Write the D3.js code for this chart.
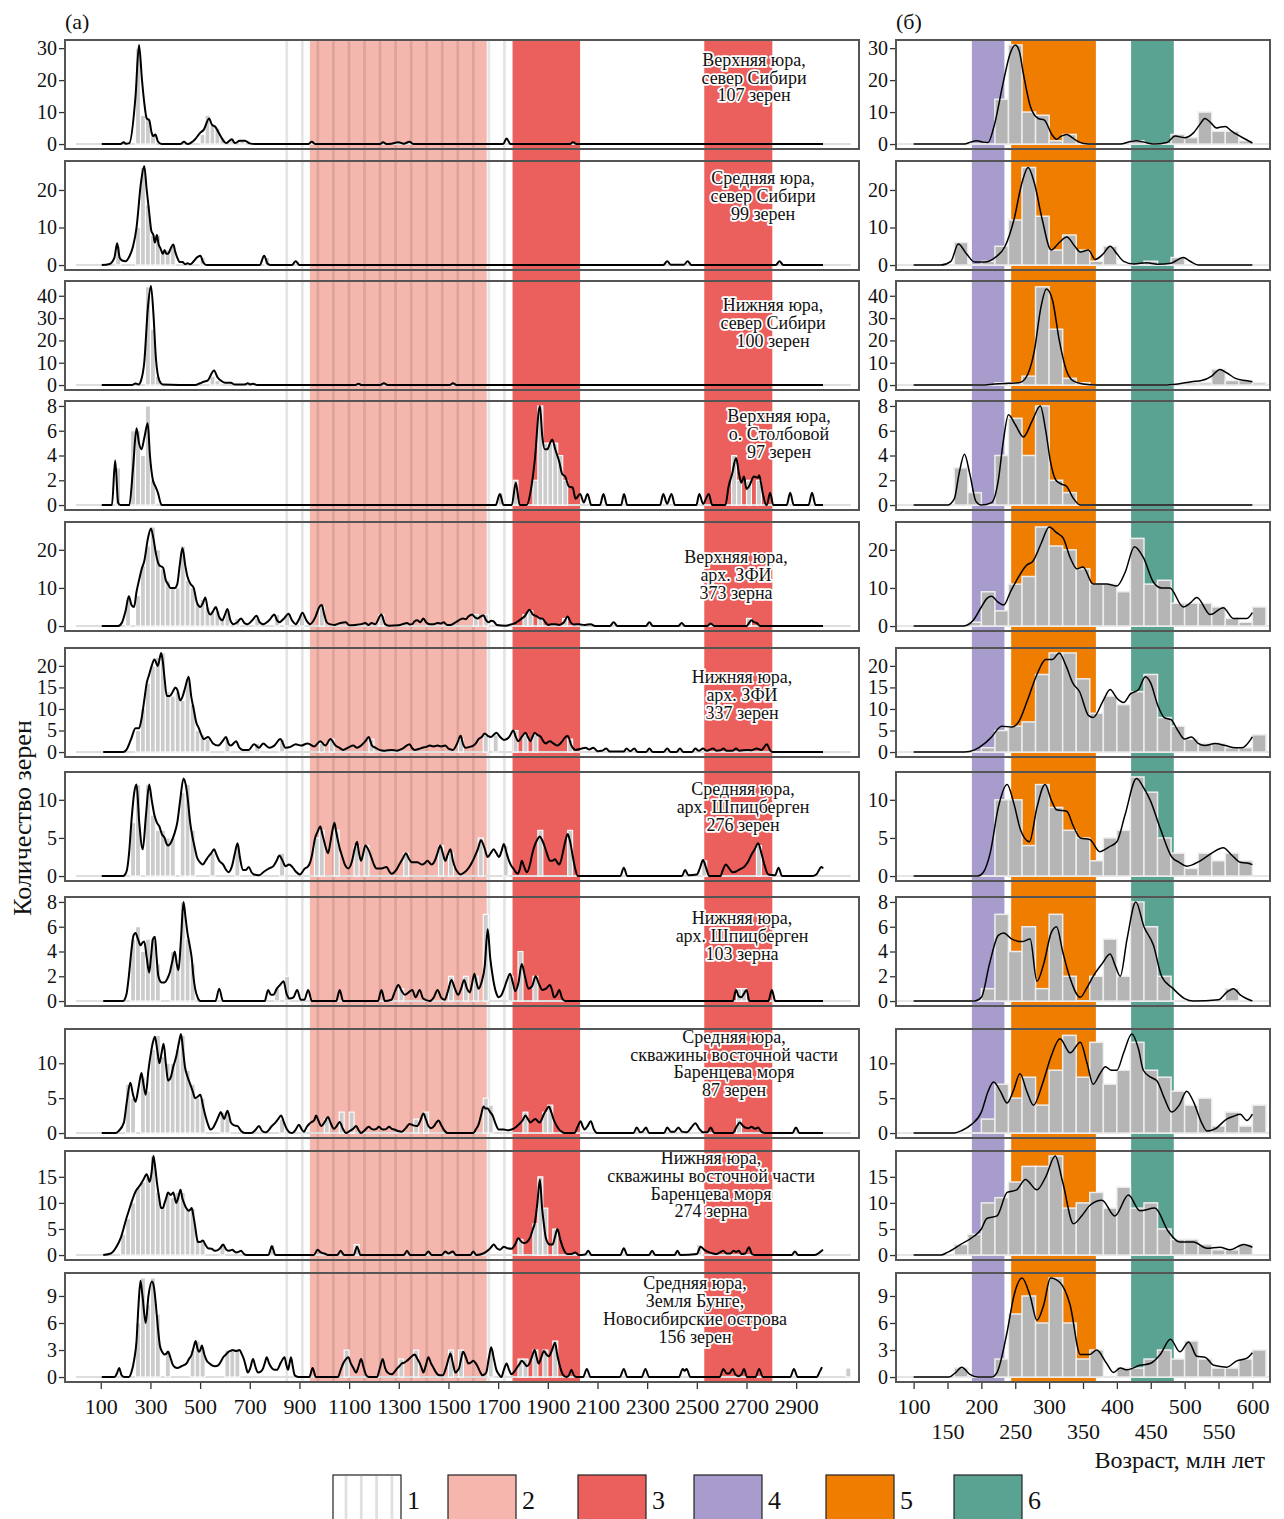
<!DOCTYPE html>
<html>
<head>
<meta charset="utf-8">
<script src="https://cdn.jsdelivr.net/npm/d3@7"></script>
<style>
  body { margin: 0; background: #fff; }
  svg text { font-family: "Liberation Serif", "DejaVu Serif", serif; fill: #111; }
  .halo { stroke: #fff; stroke-width: 3.5px; stroke-linejoin: round; paint-order: stroke; }
</style>
</head>
<body>
<svg id="chart" width="1284" height="1519"></svg>
<script>
// ---- data ----
// panel titles
var titles = [
  ["Верхняя юра,", "север Сибири", "107 зерен"],
  ["Средняя юра,", "север Сибири", "99 зерен"],
  ["Нижняя юра,", "север Сибири", "100 зерен"],
  ["Верхняя юра,", "о. Столбовой", "97 зерен"],
  ["Верхняя юра,", "арх. ЗФИ", "373 зерна"],
  ["Нижняя юра,", "арх. ЗФИ", "337 зерен"],
  ["Средняя юра,", "арх. Шпицберген", "276 зерен"],
  ["Нижняя юра,", "арх. Шпицберген", "103 зерна"],
  ["Средняя юра,", "скважины восточной части", "Баренцева моря", "87 зерен"],
  ["Нижняя юра,", "скважины восточной части", "Баренцева моря", "274 зерна"],
  ["Средняя юра,", "Земля Бунге,", "Новосибирские острова", "156 зерен"]
];

var yTicks = [[0,10,20,30],[0,10,20],[0,10,20,30,40],[0,2,4,6,8],[0,10,20],[0,5,10,15,20],
              [0,5,10],[0,2,4,6,8],[0,5,10],[0,5,10,15],[0,3,6,9]];
var xTicksA = [100,300,500,700,900,1100,1300,1500,1700,1900,2100,2300,2500,2700,2900];
var xTicksB = [100,150,200,250,300,350,400,450,500,550,600];
var legendNames = ["1","2","3","4","5","6"];

// age zones (Ma)
var zoneStriped = [849, 1760];
var zonePink = [942, 1654];
var zoneRed = [[1758, 2030], [2530, 2804]];
var zonePurple = [186, 234];
var zoneOrange = [244, 369];
var zoneGreen = [421, 484];

// left histograms: [bin start, count], 20 Ma bins
var histA1 = [[240,30],[260,9],[280,8],[300,3],[500,3],[520,9],[540,6],[560,5],[580,2],[620,1],[660,1]];
var histA2 = [[160,5],[240,10],[260,26],[280,16],[300,8],[320,8],[340,4],[360,4],[380,5],[500,2],[760,2]];
var histA3 = [[280,44],[300,25],[320,4],[540,4],[560,2]];
var histA4 = [[160,3],[220,6],[240,6],[260,4],[280,8],[300,2],[1700,1],[1760,2],[1840,2],[1860,8],[1880,5],[1900,5],[1920,5],[1940,4],[1960,2],[2640,4],[2660,2],[2700,2],[2740,2]];
var histA5 = [[200,7],[240,8],[260,16],[280,21],[300,26],[320,20],[340,15],[360,12],[380,10],[400,10],[420,21],[440,12],[460,10],[480,6],[500,7],[520,5],[540,4],[560,4],[580,2],[600,4],[640,2],[720,2],[800,3],[840,3],[900,3],[980,5],[1220,3],[1600,3],[1640,3],[1800,3],[1820,4],[1860,2],[1960,2],[2700,2]];
var histA6 = [[240,5],[260,10],[280,16],[300,20],[320,22],[340,23],[360,14],[380,13],[400,14],[420,12],[440,17],[460,11],[480,5],[500,4],[520,3],[600,3],[720,2],[820,3],[980,2],[1020,3],[1180,3],[1540,3],[1640,4],[1680,4],[1760,5],[1800,4],[1840,4],[1980,3]];
var histA7 = [[220,7],[240,12],[280,12],[300,8],[320,6],[340,6],[360,5],[380,5],[420,11],[440,12],[460,6],[540,3],[640,4],[820,3],[960,5],[980,6],[1040,6],[1120,4],[1160,4],[1320,3],[1460,4],[1500,3],[1620,5],[1720,4],[1860,6],[1980,6],[2520,2],[2740,4]];
var histA8 = [[220,5],[240,6],[260,4],[280,5],[300,5],[320,3],[380,4],[400,3],[420,8],[440,5],[460,3],[800,1],[840,2],[1300,1],[1500,2],[1560,2],[1600,2],[1640,7],[1740,2],[1780,4],[1840,2],[2660,1],[2680,1]];
var histA9 = [[200,7],[220,5],[260,8],[280,6],[300,12],[320,14],[340,11],[360,10],[380,10],[400,12],[420,14],[440,9],[460,7],[480,5],[500,5],[580,3],[600,3],[820,2],[1000,2],[1060,3],[1100,3],[1360,2],[1400,3],[1640,5],[1660,4],[1800,3],[1880,3],[1900,4],[2660,2]];
var histA10 = [[180,4],[200,7],[220,10],[240,13],[260,14],[280,15],[300,19],[320,12],[340,9],[360,12],[380,11],[400,12],[420,12],[440,9],[460,9],[480,3],[500,3],[580,2],[780,2],[1120,2],[1780,3],[1840,6],[1860,15],[1880,9],[1920,5],[2500,2]];
var histA11 = [[240,6],[260,11],[280,8],[300,11],[320,7],[360,3],[460,3],[480,4],[500,3],[600,3],[620,3],[640,3],[1080,3],[1300,2],[1360,3],[1500,3],[1540,3],[1660,3],[1780,2],[1800,2],[1840,3],[1880,3],[1920,4],[3100,1]];

// left density curves: [age, value]
var kdeA1 = [[104,0],[180,0],[193,0.6],[200,0.1],[215,0.3],[240,15],[254,31],[266,20],[275,13],[285,8],[295,7.5],[305,3.5],[312,2.5],[320,3],[330,0.8],[345,0],[420,0],[435,0.7],[450,0],[480,1.5],[500,3.5],[515,4.5],[536,8],[548,6],[560,5.5],[575,3.5],[590,1.5],[604,0.3],[628,1.5],[640,0.3],[660,1],[680,1],[700,0.2],[720,0],[935,0],[949,0.7],[965,0],[1225,0],[1236,0.6],[1250,0],[1270,0.1],[1298,0.6],[1320,0.1],[1343,0.7],[1360,0],[1720,0],[1734,1.7],[1750,0],[1990,0],[2001,0.6],[2015,0],[3008,0]];
var kdeA2 = [[104,0],[135,0.3],[155,2],[166,5.8],[176,2],[186,1.2],[200,1],[213,2],[230,5],[244,10],[262,22],[275,26.4],[285,20],[295,14],[304,9],[312,8],[318,6],[326,8],[333,5.5],[340,4.5],[350,3],[357,4],[364,3],[371,3],[382,4.5],[392,5.5],[400,3.5],[408,2],[418,0.8],[429,0.8],[440,0.2],[449,0.5],[460,0.2],[474,1],[487,2],[501,2.5],[512,0.8],[525,0],[740,0],[758,2.5],[772,0.3],[785,0],[870,0],[885,1],[900,0],[2365,0],[2381,1],[2395,0.1],[2448,0.1],[2463,1],[2478,0],[2818,0],[2833,1],[2848,0],[3008,0]];
var kdeA3 = [[104,0],[225,0],[240,0.7],[252,0.3],[262,2],[275,10],[290,35],[302,44.4],[312,32],[322,12],[336,2],[350,0.3],[480,0],[500,0.8],[515,1.5],[530,2],[556,6.5],[570,3.5],[583,2],[600,1],[624,1],[640,0.2],[680,0.3],[692,0.8],[702,0.3],[713,0.6],[730,0],[1125,0],[1138,0.6],[1150,0],[1225,0],[1240,0.8],[1255,0],[1505,0],[1518,0.8],[1532,0],[3008,0]];
var kdeA4 = [[104,0],[145,0],[158,3.6],[170,0.2],[178,0],[215,0],[230,3],[244,6.2],[254,5],[264,4.5],[276,5.5],[289,6.6],[298,4],[310,2],[320,1.5],[330,1],[345,0],[1690,0],[1707,0.9],[1722,0],[1755,0],[1771,1.8],[1787,0],[1815,0],[1830,1],[1847,3.5],[1868,8],[1878,5.5],[1888,4.5],[1898,4.5],[1909,5],[1918,5.3],[1930,4.5],[1946,3.5],[1958,2.5],[1970,2.3],[1985,1.5],[2000,1.4],[2012,0.5],[2030,0.9],[2045,0.2],[2060,0.9],[2075,0],[2110,0],[2124,0.9],[2138,0],[2195,0],[2207,0.9],[2220,0],[2352,0],[2365,0.9],[2380,0.1],[2398,0.9],[2412,0],[2498,0],[2510,0.9],[2525,0.1],[2548,0.9],[2562,0],[2615,0],[2628,1.5],[2642,2.5],[2658,3.8],[2670,2.5],[2679,1.8],[2690,2.3],[2700,1.3],[2710,1.5],[2730,2.3],[2745,2.2],[2751,2.4],[2765,1],[2780,0],[2782,0],[2795,1],[2808,0],[2862,0],[2876,1],[2890,0],[2950,0],[2964,1],[2978,0],[3008,0]];
var kdeA5 = [[104,0],[170,0],[186,1],[200,4],[213,7.8],[224,5.5],[234,5],[244,9],[254,12],[265,15],[275,17],[290,23],[302,25.6],[312,23],[322,19],[335,16],[351,15.3],[362,12],[371,11],[380,10],[388,10],[398,10],[408,11],[418,16],[429,20.5],[440,16],[449,13],[462,11],[474,10],[488,6],[501,5],[511,6],[521,7.5],[532,4],[542,3],[553,4],[563,5],[576,2.5],[589,1.5],[600,3],[610,4.5],[622,1.5],[634,0.5],[650,1],[665,2],[680,0.7],[692,0.5],[710,1.5],[727,2.7],[740,1],[754,0.5],[778,1.5],[799,3],[810,1.5],[819,1],[838,2],[856,3.2],[870,1.5],[885,0.5],[900,2],[912,3.5],[928,1.5],[943,0.5],[965,2.5],[980,5],[990,5.5],[1000,3],[1010,1],[1021,0.5],[1040,0.3],[1060,0.7],[1087,1],[1100,0.2],[1125,0.3],[1150,0.5],[1165,0.8],[1178,0.3],[1190,0.8],[1205,0.5],[1230,3],[1245,0.5],[1260,0.1],[1300,0.2],[1320,0.6],[1333,0.8],[1345,0.4],[1354,0.5],[1363,1.2],[1374,1.5],[1387,1],[1399,2],[1410,1],[1425,0.5],[1440,0.5],[1456,0.8],[1470,0.7],[1481,1],[1495,0.3],[1508,0.3],[1530,1],[1550,1.8],[1559,2],[1570,1.8],[1580,2.5],[1596,3],[1606,2.3],[1617,2],[1630,2.5],[1641,2.8],[1652,1.5],[1662,1],[1672,1.4],[1682,1.2],[1695,0.3],[1730,0.1],[1755,0.5],[1770,0.8],[1785,1.5],[1796,2],[1806,2.5],[1816,3.5],[1826,4.3],[1840,3],[1857,2.5],[1868,2],[1878,2],[1890,1],[1902,0.3],[1915,0.5],[1929,0.5],[1945,0.3],[1965,1],[1980,2.5],[1992,1],[2005,0.4],[2020,0.5],[2032,0.4],[2050,0.3],[2073,0.5],[2090,0],[2150,0],[2165,1],[2180,0],[2295,0],[2309,1],[2323,0],[2425,0],[2439,0.8],[2453,0],[2542,0],[2556,0.7],[2570,0],[2700,0],[2712,1],[2720,1.5],[2730,1],[2741,0.8],[2755,0],[3008,0]];
var kdeA6 = [[110,0],[190,0],[203,0.5],[222,3],[240,5.5],[254,5.5],[265,8],[275,12],[285,16],[295,18],[305,20],[316,21.5],[330,20],[343,23],[350,21],[357,17],[366,13],[378,13],[390,14],[400,15],[408,14.5],[420,12],[430,13],[440,15],[454,17.5],[464,13],[474,10],[484,7],[495,5.5],[505,4],[515,3],[532,3.5],[552,2],[573,1.5],[590,2.5],[604,3.5],[614,2],[624,1.5],[645,2.5],[658,1],[672,0.5],[696,0.5],[717,1.8],[737,1],[754,2],[778,1],[799,1.5],[823,3],[844,1],[864,1.2],[885,1.8],[906,1.5],[933,2],[959,1.3],[984,2.5],[1004,1.5],[1025,3],[1045,1.5],[1060,1],[1076,0.5],[1095,1],[1117,1.5],[1132,1],[1148,1.5],[1165,2.5],[1179,3.5],[1192,1.5],[1206,1],[1222,0.5],[1240,0.3],[1255,0.4],[1271,0.5],[1292,0.3],[1315,0.8],[1343,1.8],[1355,0.8],[1364,0.5],[1380,0.7],[1395,1],[1410,1.2],[1425,1.5],[1440,1.3],[1456,1.5],[1470,1.3],[1487,1.5],[1500,0.8],[1518,0.5],[1535,2],[1549,3.8],[1559,1.8],[1569,1],[1585,1.2],[1600,1.5],[1610,2],[1621,3],[1634,3.5],[1646,4.3],[1660,3.7],[1672,3.5],[1682,4],[1693,4.5],[1708,3.5],[1724,2.8],[1745,3.5],[1761,5],[1771,3.5],[1781,2.5],[1795,3.5],[1810,4.5],[1820,3.5],[1830,2.5],[1838,3.5],[1847,4.5],[1858,4],[1872,3.5],[1882,2.5],[1892,2],[1900,2.3],[1909,2.5],[1922,2],[1939,1.5],[1958,2.5],[1968,3.3],[1980,3.8],[1995,1.5],[2011,0.5],[2030,0.7],[2040,0.9],[2052,1],[2067,0.6],[2083,1],[2100,0.2],[2118,0.3],[2135,0.8],[2150,0.1],[2205,0.1],[2217,0.8],[2232,0.2],[2248,0.8],[2262,0],[2295,0],[2309,0.8],[2323,0],[2365,0],[2381,0.8],[2395,0],[2418,0],[2432,0.8],[2446,0],[2480,0],[2494,0.8],[2508,0.3],[2525,0.8],[2540,0.3],[2566,0.8],[2580,0.3],[2595,0.4],[2607,0.8],[2620,0.3],[2643,0.3],[2658,0.8],[2672,0.3],[2700,0.5],[2720,0.4],[2741,0.8],[2760,0.5],[2782,1.8],[2795,0.4],[2805,0],[3008,0]];
var kdeA7 = [[104,0],[190,0],[203,0.5],[214,3],[223,7],[235,11],[244,12],[255,7],[269,3.5],[282,8],[295,12],[305,10],[316,8],[326,7],[336,6.5],[346,5.5],[357,5],[364,4.3],[371,4],[384,4.5],[396,5.5],[408,7],[420,10],[433,12.8],[442,12],[449,10.5],[460,7],[470,5],[480,3.5],[487,2.5],[500,1.8],[511,1.5],[522,2],[532,2.5],[545,3],[556,3.5],[566,2.8],[577,2],[593,1.5],[605,0.8],[614,0.5],[630,1.5],[640,3],[651,4.3],[660,2.5],[672,0.8],[684,0.8],[696,1.2],[707,0.5],[717,0.2],[737,0.1],[758,0.6],[778,1],[795,1.3],[808,2],[819,2.7],[832,2],[844,1.3],[858,1.5],[871,1.2],[885,0.6],[902,0.2],[922,1],[933,1.2],[943,1.8],[952,3],[963,5],[973,5.8],[984,6.5],[992,5.5],[1000,4.5],[1008,3.5],[1015,3],[1025,4.5],[1033,6],[1041,7],[1048,5.8],[1056,4.5],[1063,3.5],[1070,2.8],[1083,1.5],[1097,1],[1112,2],[1122,3.5],[1132,4.5],[1140,3],[1148,2],[1157,3],[1165,4],[1177,3.5],[1189,2.5],[1200,1.5],[1210,1],[1230,1],[1251,1.2],[1262,0.6],[1271,0.3],[1290,0.8],[1302,1.5],[1316,2.3],[1329,3],[1340,2.3],[1354,1.8],[1374,1.8],[1395,1.5],[1405,1.7],[1415,2],[1432,1.5],[1445,2],[1456,3],[1467,4],[1477,3],[1487,2],[1497,2.8],[1508,3.5],[1518,2],[1528,1],[1540,0.4],[1549,0.2],[1565,0.5],[1580,1],[1595,1.8],[1605,2.5],[1618,3.5],[1631,4.7],[1644,3.8],[1658,2.5],[1670,3],[1682,3.5],[1693,3],[1703,2.5],[1713,3.2],[1723,4.2],[1734,3],[1744,2],[1752,1.4],[1761,1],[1779,0.3],[1788,1],[1795,2],[1805,1.2],[1816,0.5],[1828,1.5],[1838,3],[1847,4],[1858,4.8],[1868,5.2],[1876,4.8],[1884,4.2],[1896,3],[1909,2],[1918,2],[1929,2.2],[1938,1.8],[1946,1.5],[1953,2],[1960,3],[1970,4.5],[1980,5.5],[1990,4.5],[2001,2.5],[2010,1],[2021,0],[2192,0],[2206,1.1],[2220,0],[2440,0],[2453,0.8],[2466,0.1],[2500,0.2],[2512,1],[2525,2.1],[2538,1],[2550,0],[2595,0],[2605,0.8],[2617,1.5],[2630,1],[2644,0.5],[2658,0.6],[2669,0.8],[2680,1],[2690,1.2],[2705,1.8],[2720,2.8],[2733,3.5],[2747,4.3],[2760,3],[2772,1.5],[2788,0.2],[2815,0.1],[2829,1.1],[2843,0],[2965,0],[2981,0.2],[3002,1.2],[3008,1]];
var kdeA8 = [[110,0],[190,0],[203,0.5],[213,2],[223,4],[232,5.3],[240,5.5],[250,5],[260,4.5],[267,4.7],[275,4.8],[285,3.5],[295,2.3],[302,3.5],[310,5],[318,5.2],[325,3.5],[332,2],[345,1.5],[357,1.5],[368,1.8],[378,2.3],[388,3.2],[398,4],[406,3],[413,2.5],[423,5],[433,8],[441,6.8],[449,5.5],[458,4.5],[466,3.5],[473,2],[480,1],[490,0.3],[501,0],[562,0],[577,1],[592,0],[760,0],[774,0.9],[785,0.5],[795,0.5],[809,1],[822,1.3],[836,1.6],[848,0.6],[860,0.2],[876,0.3],[891,0.9],[905,0.1],[920,0.1],[935,0.9],[950,0],[1048,0],[1062,0.9],[1076,0],[1216,0],[1230,0.9],[1244,0],[1270,0.1],[1285,0.8],[1298,1.3],[1312,0.8],[1325,0.5],[1340,0.7],[1354,0.9],[1368,0.3],[1384,0.9],[1398,0.2],[1425,0],[1441,0.3],[1456,0.9],[1470,0.3],[1485,0.1],[1498,0.8],[1512,1.7],[1526,1],[1539,0.5],[1551,1],[1563,1.7],[1575,1],[1586,0.7],[1595,1.4],[1604,2.2],[1613,1.5],[1621,1],[1633,1.5],[1646,2.8],[1658,5.8],[1668,3.5],[1678,2],[1690,0.8],[1703,0.3],[1714,0.5],[1724,1],[1736,1.7],[1748,2.2],[1759,1.5],[1769,0.8],[1782,1.5],[1795,3],[1808,2],[1822,1],[1837,1.2],[1851,2],[1864,1.4],[1878,0.9],[1893,1],[1909,1.3],[1918,0.8],[1925,0.3],[1936,0.5],[1946,0.9],[1958,0.2],[1970,0],[2645,0],[2658,0.9],[2668,0.4],[2679,0.3],[2690,0.6],[2700,0.9],[2712,0],[2788,0],[2802,0.9],[2816,0],[3008,0]];
var kdeA9 = [[104,0],[160,0],[172,0.3],[193,1.5],[205,4.5],[219,7.2],[230,5.5],[240,4.5],[252,6.5],[264,8.6],[272,7],[281,5.5],[292,9],[302,11.5],[310,13],[318,13.8],[327,12],[336,10],[345,11.5],[353,12.8],[362,10],[371,7.5],[382,8],[392,9.5],[404,11],[415,13],[423,14.2],[431,12],[439,9.5],[450,8],[460,7],[470,6],[480,5],[490,5.2],[501,5.5],[511,4],[521,2.5],[532,1.2],[542,0.5],[553,0.8],[563,1.5],[573,2.3],[583,3],[590,2.5],[597,2],[604,2.7],[610,3.2],[617,2.5],[624,1.5],[637,1.1],[651,1],[665,0.3],[680,0],[706,0],[722,0.4],[737,1],[750,0.3],[765,0.1],[789,1],[803,1.5],[814,2],[826,2.5],[838,1.5],[850,0.5],[860,0.1],[871,0],[885,0.5],[898,1.2],[908,0.6],[918,0.2],[930,0.9],[939,1.3],[950,1.6],[959,1.8],[967,2.5],[976,1.8],[988,1],[1002,1.6],[1015,2.3],[1026,1.4],[1039,0.6],[1050,1],[1062,1.6],[1075,0.6],[1087,0],[1103,0.3],[1116,0.6],[1128,1],[1140,0.3],[1148,0],[1163,0.4],[1179,0.9],[1190,0.6],[1200,0.5],[1210,0.6],[1220,0.9],[1230,0.6],[1240,0.5],[1250,0.6],[1261,0.9],[1272,0.6],[1282,0.5],[1297,0.3],[1312,0.2],[1328,0.7],[1343,1.3],[1358,1.1],[1374,1],[1387,1.8],[1399,2.8],[1409,2],[1419,1],[1430,0.7],[1442,1],[1451,1.5],[1460,1.8],[1470,1.2],[1481,0.5],[1497,0],[1600,0],[1610,0.5],[1621,1.2],[1631,2.5],[1641,3.8],[1650,3.5],[1658,3.5],[1668,3],[1678,2.5],[1690,1.3],[1703,0.5],[1723,0.5],[1738,0.4],[1754,0.5],[1770,0.8],[1785,1.3],[1798,1.8],[1810,2.5],[1820,2],[1830,1.5],[1840,1.8],[1851,2],[1860,1.7],[1868,1.5],[1876,2],[1884,2.7],[1894,3.3],[1904,3.8],[1914,3],[1925,1.8],[1936,1],[1946,0.5],[1956,0.2],[1966,0],[2007,0],[2020,0.9],[2032,1.7],[2040,1],[2048,0.5],[2060,1],[2073,1.7],[2086,0.5],[2098,0],[2245,0],[2258,0.8],[2272,0.1],[2282,0.2],[2295,0.8],[2308,0],[2368,0],[2381,0.8],[2395,0.2],[2410,0.2],[2426,0.8],[2440,0.2],[2460,0.1],[2478,0.8],[2494,1.4],[2510,0.6],[2525,0.1],[2542,0.1],[2556,0.8],[2570,0],[2645,0],[2660,0.9],[2673,1.5],[2684,1.1],[2694,0.8],[2708,0.7],[2720,0.9],[2734,0.6],[2747,0.8],[2760,0.2],[2775,0],[2885,0],[2899,0.8],[2913,0],[3008,0]];
var kdeA10 = [[110,0],[140,0.3],[162,1.5],[182,3.5],[203,7],[213,8.5],[223,10],[234,11.5],[244,12.5],[252,13],[260,13.5],[272,14.5],[285,15.5],[297,14],[305,16],[312,19],[320,16.5],[326,14],[335,11],[343,9],[350,9],[357,10],[364,11],[371,12],[382,11.5],[392,12],[398,11],[404,10],[412,11],[421,12.5],[428,11],[435,10],[444,9],[454,8.5],[460,8.7],[466,9],[473,7.5],[480,5.5],[486,3.5],[491,2.5],[500,2.5],[511,2.8],[521,2],[532,1.3],[546,1.2],[555,0.9],[563,0.8],[580,1.3],[593,2],[603,1.2],[614,0.8],[622,0.9],[630,1],[638,0.7],[645,0.5],[655,0.6],[665,0.8],[675,0.3],[686,0],[775,0],[789,1.7],[803,0],[958,0],[973,1],[986,0.5],[1000,0.3],[1015,0],[1052,0],[1066,0.8],[1080,0],[1118,0],[1132,1.6],[1146,0],[1320,0],[1333,0.8],[1346,0],[1405,0],[1419,0.7],[1433,0],[1473,0],[1487,0.7],[1500,0.3],[1518,0.7],[1530,0],[1588,0],[1600,0.7],[1612,0],[1640,0.3],[1662,1],[1672,1.5],[1682,2],[1695,1.3],[1707,1],[1715,1.3],[1723,1.6],[1738,1.3],[1754,1.2],[1768,2],[1781,3.2],[1795,2.5],[1805,2.3],[1816,2.5],[1830,3.5],[1840,5],[1847,6],[1858,10],[1868,14.5],[1877,9],[1884,6],[1891,3.5],[1898,2.5],[1908,2],[1919,2],[1929,3.5],[1939,5],[1950,3],[1960,1.5],[1970,0.5],[1980,0.2],[1995,0.2],[2011,0.5],[2025,0],[2050,0.1],[2063,0.8],[2076,0],[2192,0],[2206,1.3],[2220,0],[2307,0],[2320,0.8],[2333,0],[2410,0],[2422,0.8],[2434,0],[2500,0.2],[2515,1.6],[2530,1],[2550,0.5],[2565,0.3],[2580,0.2],[2607,0.8],[2620,0.3],[2635,0.3],[2648,0.8],[2658,0.6],[2669,0.8],[2680,0.2],[2695,0.3],[2710,1.5],[2722,0.2],[2735,0],[2882,0],[2895,0.7],[2908,0],[2975,0],[2995,0.5],[3008,1]];
var kdeA11 = [[104,0],[155,0],[165,0.4],[174,1],[184,0.2],[195,0],[213,0],[223,0.5],[235,2],[244,4],[252,8],[260,10.7],[268,9],[281,6],[292,9],[306,10.6],[314,10],[322,8],[330,5.5],[338,3.5],[347,2.8],[357,2.5],[364,2.6],[371,2.8],[380,2.2],[388,1.5],[398,1.1],[408,1],[425,1.2],[445,1.5],[455,2],[466,2.5],[474,3.3],[482,4],[489,3.2],[495,2.8],[501,3],[507,3.5],[517,2.5],[527,1.8],[538,1.5],[548,1.3],[560,1.2],[573,1.3],[583,1.7],[593,2.2],[604,2.5],[614,2.8],[622,2.9],[630,3],[645,2.9],[659,3],[667,2.6],[676,2],[684,1.2],[692,0.5],[702,1],[713,2],[722,1.2],[733,0.5],[744,0.6],[754,1],[761,1.6],[768,2.2],[778,1.5],[789,1],[799,0.8],[809,0.8],[825,1.6],[840,2.2],[847,1.4],[854,0.8],[860,1.5],[866,2.2],[873,1.2],[881,0.2],[895,0],[940,0],[953,1],[966,0],[1055,0],[1066,0.8],[1076,1.5],[1087,2],[1097,2.2],[1107,1.5],[1117,1],[1128,0.5],[1138,1.2],[1148,2],[1159,1],[1169,0.2],[1180,0],[1212,0],[1224,1],[1235,2],[1245,1],[1255,0.5],[1271,0.3],[1292,0.9],[1302,1.2],[1312,1.5],[1322,1.6],[1333,1.8],[1348,2.2],[1364,2.5],[1375,2],[1385,1.5],[1392,1],[1399,0.5],[1409,1.3],[1419,2.2],[1430,1.5],[1440,1],[1448,0.6],[1456,0.3],[1466,0.2],[1477,0.2],[1492,1.2],[1500,2],[1508,2.6],[1518,1.5],[1528,0.5],[1536,0.7],[1543,1],[1551,2],[1559,2.8],[1570,2.2],[1580,1.5],[1590,1.6],[1600,1.8],[1608,1.6],[1617,1.2],[1627,0.6],[1637,0.2],[1645,0.3],[1652,0.5],[1662,2],[1672,3.3],[1683,2],[1693,0.8],[1703,0.3],[1713,0],[1723,0.8],[1734,1.5],[1744,0.8],[1754,0.3],[1765,0.6],[1775,1],[1785,1.4],[1795,1.8],[1806,1.5],[1816,1.2],[1826,1.5],[1837,2.3],[1847,3],[1855,2.2],[1863,1.5],[1874,2.2],[1884,2.9],[1895,2.5],[1904,2.3],[1917,3],[1929,3.8],[1938,2.5],[1946,1.5],[1953,0.8],[1960,0.3],[1975,0],[1985,0.2],[1995,0.8],[2005,0.2],[2015,0],[2042,0],[2057,0.9],[2072,0],[2190,0],[2206,0.9],[2220,0],[2278,0],[2293,0.9],[2308,0],[2428,0],[2443,0.9],[2451,0.7],[2459,0.9],[2474,0],[2592,0],[2607,0.9],[2620,0.4],[2630,0.4],[2644,0.9],[2655,0.3],[2668,0.1],[2680,0.3],[2690,0.9],[2702,0],[2736,0],[2751,0.9],[2766,0],[2876,0],[2891,0.9],[2906,0],[2982,0],[2995,0.6],[3004,1.1]];

// right histograms: counts in 20 Ma bins starting at binStart
var binStart = [160,180,200,220,240,260,280,300,320,340,360,380,400,420,440,460,480,500,520,540,560,580,600];
var histB1 = [0,0,0,14,31,10,9,1,3,0,0,0,0,1,0,0,3,2,10,4,4,1,0];
var histB2 = [6,0,1,5,12,26,13,4,8,4,1,5,0,0,1,0,2,0,0,0,0,0,0];
var histB3 = [0,0,0,1,1,4,44,25,3,1,0,0,0,0,0,0,0,1,1,7,2,2,1];
var histB4 = [3,1,0,4,7,4,8,2,1,0,0,0,0,0,0,0,0,0,0,0,0,0,0];
var histB5 = [0,1,9,4,11,13,26,21,20,15,11,11,9,23,11,12,6,6,6,5,2,1,5];
var histB6 = [0,0,1,5,6,7,18,23,23,17,9,13,11,14,18,8,6,3,2,2,1,1,4];
var histB7 = [0,0,0,10,10,4,12,9,6,5,2,5,6,13,11,5,3,1,3,2,3,2,0];
var histB8 = [0,0,1,7,4,6,1,7,2,0,2,5,2,8,6,2,0,0,0,0,1,0,0];
var histB9 = [0,0,2,7,5,8,4,9,14,8,13,7,9,13,9,8,6,4,5,1,3,1,4];
var histB10 = [2,4,10,11,14,17,17,19,9,10,12,9,13,9,10,5,3,3,2,1,1,2,0];
var histB11 = [1,0,0,2,7,9,6,11,6,2,3,0,1,1,2,3,2,4,2,1,1,2,3];

// right density curves
var kdeB1 = [[100,0],[175,0],[184,0.6],[193,1],[203,0.6],[210,0.5],[218,5],[233,20],[242,28],[250,31],[256,29],[262,22],[272,12],[284,8],[293,7.5],[304,3],[311,1.5],[318,2.5],[326,3],[334,2],[341,1],[351,0.2],[365,0],[405,0],[420,0.8],[429,1],[440,0.6],[454,0],[474,0.5],[486,2.5],[500,2],[513,3.5],[522,6],[530,8],[538,6.8],[547,5],[553,5.3],[560,5.5],[568,4.3],[577,3],[590,1.5],[600,0.3]];
var kdeB2 = [[100,0],[140,0],[155,1],[166,5.6],[178,3],[190,0.8],[205,0.8],[220,2],[235,5],[248,12],[260,22],[269,26],[278,22],[290,12],[303,4],[315,6],[326,7.5],[338,5],[346,3.5],[358,4],[368,1.5],[380,3],[390,5],[400,3],[410,1],[425,0.3],[444,0.6],[460,0.2],[480,0.5],[498,2],[508,1],[520,0],[600,0]];
var kdeB3 = [[100,0],[200,0],[220,0.5],[240,0.8],[255,1],[265,3],[278,15],[288,35],[296,43],[305,38],[315,20],[325,7],[335,2],[350,0.5],[370,0],[470,0],[490,0.5],[510,1.5],[525,2],[540,4],[552,7],[562,5.5],[575,3],[590,2],[600,1.5]];
var kdeB4 = [[100,0],[150,0],[160,0.5],[167,2.5],[175,4.1],[183,2.5],[192,0.3],[200,0],[215,0.2],[225,2],[232,5],[240,7.3],[250,6.5],[262,5.5],[275,6.8],[287,8],[295,6],[302,3.5],[310,2],[318,1.7],[326,1.5],[335,0.6],[346,0],[600,0]];
var kdeB5 = [[100,0],[174,0],[188,1.5],[200,5],[208,7.2],[215,7.8],[225,6.2],[233,5.5],[243,9],[252,12],[267,16],[276,17],[289,22],[300,26],[311,24.5],[321,23],[331,18],[341,15],[350,15.5],[365,11],[385,11],[400,10.5],[412,14],[426,20.8],[439,18],[454,11.5],[466,10],[478,10],[498,5],[508,6],[518,7.5],[538,3],[557,4.8],[572,2],[592,2],[600,3.5]];
var kdeB6 = [[100,0],[175,0],[190,0.5],[205,2],[215,3.5],[230,6],[245,5.8],[255,7],[268,12],[282,18],[295,21.5],[305,21.5],[315,23],[325,20],[335,16],[345,14],[358,8.5],[365,8],[380,12],[390,14.5],[400,12.5],[410,11.5],[420,13.5],[432,14.5],[442,17.5],[450,16],[460,11],[470,8],[480,7.5],[490,5],[500,3],[510,3.5],[520,2],[530,1.5],[545,2],[560,1.5],[575,1],[585,1],[600,3.5]];
var kdeB7 = [[100,0],[195,0],[203,0.5],[213,3],[225,9],[238,12],[248,9.5],[258,6],[271,4.5],[282,9],[294,12],[303,10],[311,8.7],[326,8.5],[336,6.5],[346,5],[360,4.8],[375,3.2],[388,3.8],[400,4.5],[412,8],[429,12.8],[440,11.5],[449,10],[465,6],[481,2.5],[492,1.8],[503,1.3],[523,2],[540,3],[557,3.7],[570,2.7],[582,1.8],[592,1.7],[600,1.5]];
var kdeB8 = [[100,0],[190,0],[200,0.3],[212,3],[225,5.3],[233,5.5],[245,5],[260,4.8],[272,5],[282,1.6],[292,3],[303,5.5],[311,6],[320,4],[330,2],[346,0.3],[355,1],[365,2],[378,3],[390,3.8],[398,2.8],[405,2],[415,5],[428,8],[440,6],[454,4.5],[466,2],[483,1],[500,0.2],[513,0],[550,0.1],[562,0.7],[572,1],[582,0.5],[600,0]];
var kdeB9 = [[100,0],[160,0],[172,0.4],[185,1.2],[200,3],[210,6],[218,7.3],[228,6],[238,4.3],[247,6],[257,8.5],[267,6],[277,4],[290,7],[303,11],[316,13.5],[331,11.5],[346,13],[356,10],[365,7],[375,8.5],[383,9.5],[392,9],[400,9],[410,11.5],[422,14.2],[432,12],[439,9],[450,8],[459,7.5],[470,5],[481,3],[492,4],[503,6],[513,4.5],[525,1.5],[533,0.3],[545,0.6],[562,2],[572,2.4],[582,2.7],[592,1.8],[600,2.7]];
var kdeB10 = [[100,0],[140,0],[150,0.5],[169,2],[188,3.5],[200,5],[208,7],[223,7.5],[238,12],[252,12.5],[265,14.5],[282,12.5],[295,15],[309,19],[320,14],[336,6],[348,7.5],[360,9.5],[378,10.5],[397,7.5],[417,11.5],[434,8.5],[456,9],[476,4.5],[493,2.5],[513,2.5],[533,1.3],[552,1.5],[567,1],[587,2],[600,1.5]];
var kdeB11 = [[100,0],[152,0],[162,0.5],[171,1.1],[183,0.3],[195,0],[215,0],[223,0.5],[238,5],[248,9],[260,11],[272,9],[282,6.3],[292,8],[302,11],[316,10.5],[331,8],[346,2.5],[360,2.5],[370,3],[385,1.5],[395,0.5],[405,1],[415,0.8],[434,1.3],[449,1.5],[464,2.5],[479,4.2],[493,2.8],[506,3.9],[518,2.3],[530,2.2],[543,1.3],[562,1.1],[577,1.8],[592,2.1],[600,2.7]];

var histA = [histA1,histA2,histA3,histA4,histA5,histA6,histA7,histA8,histA9,histA10,histA11];
var kdeA = [kdeA1,kdeA2,kdeA3,kdeA4,kdeA5,kdeA6,kdeA7,kdeA8,kdeA9,kdeA10,kdeA11];
var histB = [histB1,histB2,histB3,histB4,histB5,histB6,histB7,histB8,histB9,histB10,histB11];
var kdeB = [kdeB1,kdeB2,kdeB3,kdeB4,kdeB5,kdeB6,kdeB7,kdeB8,kdeB9,kdeB10,kdeB11];

// ---- layout ----
var rowTop = [40,161,281,401,522,648,772,897,1029,1151,1273];
var rowH = 109;
var titleX = [754,763,773,779,736,742,743,742,734,711,695];
var titleDy = [25.7,23.3,30,21.3,41.3,35.3,23,27.3,13.7,13,16.3];
var lineStep = 17.8;

var colors = { pink: "#f5b6ad", red: "#eb605c", purple: "#a89ccd", orange: "#ee7d00", green: "#5aa393" };

var svg = d3.select("#chart");

var xA = d3.scaleLinear().domain([-44, 3153]).range([65, 859]);
var xB = d3.scaleLinear().domain([74, 626]).range([896, 1270]);

var yTopAll = rowTop[0], yBotAll = rowTop[10] + rowH;

// background zones, continuous through all rows
var bg = svg.append("g");
function band(x, a, b, fill) {
  bg.append("rect").attr("x", x(a)).attr("width", x(b) - x(a))
    .attr("y", yTopAll).attr("height", yBotAll - yTopAll).attr("fill", fill);
}
band(xA, zonePink[0], zonePink[1], colors.pink);
zoneRed.forEach(function(z){ band(xA, z[0], z[1], colors.red); });
d3.range(zoneStriped[0], zoneStriped[1], 62.6).forEach(function(s){
  bg.append("rect").attr("x", xA(s - 5.5)).attr("width", xA(s + 5.5) - xA(s - 5.5))
    .attr("y", yTopAll).attr("height", yBotAll - yTopAll)
    .attr("fill", "#000").attr("fill-opacity", 0.1);
});
band(xB, zonePurple[0], zonePurple[1], colors.purple);
band(xB, zoneOrange[0], zoneOrange[1], colors.orange);
band(xB, zoneGreen[0], zoneGreen[1], colors.green);

var lineA = d3.line().curve(d3.curveMonotoneX);

rowTop.forEach(function(top, r) {
  var M = d3.max([
    d3.max(histA[r], function(d){ return d[1]; }),
    d3.max(kdeA[r], function(d){ return d[1]; }),
    d3.max(histB[r]),
    d3.max(kdeB[r], function(d){ return d[1]; })
  ]);
  var y = d3.scaleLinear().domain([-0.05 * M, 1.05 * M]).range([top + rowH, top]);
  var g = svg.append("g");

  // zero baselines (empty histogram bins)
  g.append("line").attr("x1", xA(0)).attr("x2", xA(3120)).attr("y1", y(0)).attr("y2", y(0))
    .attr("stroke", "#dedede").attr("stroke-width", 2);
  g.append("line").attr("x1", xB(74)).attr("x2", xB(626)).attr("y1", y(0)).attr("y2", y(0))
    .attr("stroke", "#e6e6e6").attr("stroke-width", 2);

  // left histogram
  g.selectAll(".ha").data(histA[r]).enter().append("rect")
    .attr("x", function(d){ return xA(d[0]); })
    .attr("width", function(d){ return xA(d[0] + 20) - xA(d[0]); })
    .attr("y", function(d){ return y(d[1]); })
    .attr("height", function(d){ return y(0) - y(d[1]); })
    .attr("fill", "#cccccc").attr("stroke", "#fff").attr("stroke-width", 1.1);

  // right histogram
  g.selectAll(".hb").data(histB[r]).enter().append("rect")
    .attr("x", function(d, i){ return xB(binStart[i]); })
    .attr("width", function(d, i){ return xB(binStart[i] + 20) - xB(binStart[i]); })
    .attr("y", function(d){ return y(d); })
    .attr("height", function(d){ return y(0) - y(d); })
    .attr("fill", "#b5b5b5").attr("stroke", "#ededed").attr("stroke-width", 1.5);

  // density curves
  g.append("path").attr("d", lineA.x(function(d){ return xA(d[0]); }).y(function(d){ return y(d[1]); })(kdeA[r]))
    .attr("fill", "none").attr("stroke", "#000").attr("stroke-width", 2);
  g.append("path").attr("d", lineA.x(function(d){ return xB(d[0]); }).y(function(d){ return y(d[1]); })(kdeB[r]))
    .attr("fill", "none").attr("stroke", "#000").attr("stroke-width", 1.5);

  // title
  var t = g.append("text").attr("class", "halo").attr("text-anchor", "middle")
    .attr("font-size", 18).attr("x", titleX[r]).attr("y", top + titleDy[r]);
  titles[r].forEach(function(s, i){
    t.append("tspan").attr("x", titleX[r]).attr("dy", i === 0 ? 0 : lineStep).text(s);
  });

  // frames
  g.append("rect").attr("x", 65).attr("y", top).attr("width", 859 - 65).attr("height", rowH)
    .attr("fill", "none").attr("stroke", "#555").attr("stroke-width", 2);
  g.append("rect").attr("x", 896).attr("y", top).attr("width", 1270 - 896).attr("height", rowH)
    .attr("fill", "none").attr("stroke", "#555").attr("stroke-width", 2);

  // y axes
  [65, 896].forEach(function(x0){
    var ax = g.append("g").attr("transform", "translate(" + (x0 - 1) + ",0)")
      .call(d3.axisLeft(y).tickValues(yTicks[r]).tickSize(5).tickPadding(2));
    ax.select(".domain").remove();
    ax.selectAll("line").attr("stroke", "#333").attr("stroke-width", 1.3);
    ax.selectAll("text").attr("font-size", 20).attr("font-family", "Liberation Serif").attr("fill", "#111");
  });
});

// x axes
var bottom = rowTop[10] + rowH;
var axA = svg.append("g").attr("transform", "translate(0," + (bottom + 1) + ")")
  .call(d3.axisBottom(xA).tickValues(xTicksA).tickSize(6).tickPadding(9).tickFormat(d3.format("d")));
axA.select(".domain").remove();
axA.selectAll("line").attr("stroke", "#333").attr("stroke-width", 1.3);
axA.selectAll("text").attr("font-size", 22).attr("font-family", "Liberation Serif").attr("fill", "#111");

var axB = svg.append("g").attr("transform", "translate(0," + (bottom + 1) + ")")
  .call(d3.axisBottom(xB).tickValues(xTicksB).tickSize(6).tickPadding(9).tickFormat(d3.format("d")));
axB.select(".domain").remove();
axB.selectAll("line").attr("stroke", "#333").attr("stroke-width", 1.3);
axB.selectAll("text").attr("font-size", 22).attr("font-family", "Liberation Serif").attr("fill", "#111")
  .attr("dy", function(d, i){ return i % 2 ? "1.88em" : "0.71em"; });

svg.append("text").attr("x", 1265).attr("y", 1468).attr("text-anchor", "end")
  .attr("font-size", 24).text("Возраст, млн лет");

svg.append("text").attr("transform", "translate(31,818) rotate(-90)").attr("text-anchor", "middle")
  .attr("font-size", 26).text("Количество зерен");

svg.append("text").attr("x", 65).attr("y", 29).attr("font-size", 22).text("(а)");
svg.append("text").attr("x", 896).attr("y", 29).attr("font-size", 22).text("(б)");

// legend
var legendX = [333, 448, 578, 694, 826, 954];
var legendFill = ["#fff", colors.pink, colors.red, colors.purple, colors.orange, colors.green];
var lg = svg.append("g");
legendNames.forEach(function(name, i){
  var x0 = legendX[i];
  lg.append("rect").attr("x", x0).attr("y", 1475).attr("width", 68).attr("height", 60)
    .attr("fill", legendFill[i]).attr("stroke", "#222").attr("stroke-width", 1.2);
  if (i === 0) {
    d3.range(13, 68, 15.3).forEach(function(dx){
      lg.append("rect").attr("x", x0 + dx - 1.4).attr("y", 1476).attr("width", 2.8).attr("height", 58)
        .attr("fill", "#000").attr("fill-opacity", 0.12);
    });
  }
  lg.append("text").attr("x", x0 + 74).attr("y", 1509).attr("font-size", 26).text(name);
});
</script>
</body>
</html>
